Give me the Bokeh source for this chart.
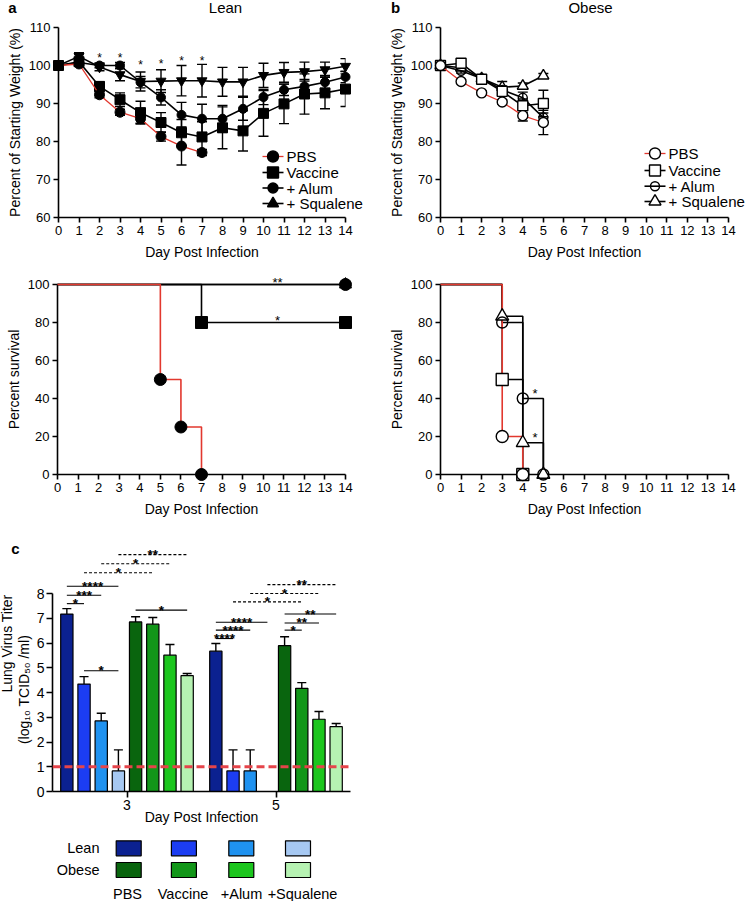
import math
from bokeh.plotting import figure
from bokeh.layouts import column, row
from bokeh.models import (Range1d, FixedTicker, Whisker, TeeHead, Span, ColumnDataSource)
from bokeh.core.properties import value
from bokeh.embed import file_html
from bokeh.resources import INLINE

FONT = "Liberation Sans"
RED = "#e2382e"
nan = float("nan")

# ---------------- body weight (% of starting weight), mean and SEM
days = list(range(15))
group_names = ["PBS", "Vaccine", "+ Alum", "+ Squalene"]

lean_pbs_days = [0, 1, 2, 3, 4, 5, 6, 7]
lean_pbs = [100, 100.4, 92.3, 87.7, 86.0, 81.3, 78.8, 77.1]
lean_pbs_sem = [0, 0.5, 0.8, 0.8, 1.2, 1.2, 5.0, 0.8]
lean_vac = [100, 101.0, 94.5, 91.0, 87.6, 85.0, 82.3, 81.2, 83.6, 82.8, 87.4, 89.9, 92.5, 92.8, 93.8]
lean_vac_sem = [0, 0.8, 1.2, 1.8, 3.0, 2.6, 3.5, 4.0, 5.5, 5.3, 6.0, 5.2, 5.3, 4.2, 4.6]
lean_alum = [100, 100.8, 100.0, 100.0, 95.6, 91.6, 87.0, 86.0, 86.0, 88.6, 91.7, 93.6, 94.5, 95.6, 97.0]
lean_alum_sem = [0, 0.8, 0.6, 0.8, 1.5, 2.0, 3.3, 3.8, 3.5, 3.0, 2.0, 1.5, 1.8, 1.8, 1.5]
lean_squa = [100, 102.4, 99.6, 97.6, 95.8, 95.9, 96.0, 96.0, 95.7, 95.7, 97.4, 98.2, 98.4, 98.9, 99.8]
lean_squa_sem = [0, 1.0, 1.0, 1.6, 2.5, 3.0, 4.0, 4.3, 3.8, 3.8, 3.2, 2.6, 2.5, 2.0, 2.0]

obese_days = [0, 1, 2, 3, 4, 5]
obese_pbs = [100, 95.8, 92.8, 90.4, 86.8, 85.0]
obese_pbs_sem = [0, 0.5, 0.5, 0.6, 1.4, 3.2]
obese_vac = [100, 100.6, 96.4, 93.2, 89.4, 90.0]
obese_vac_sem = [0, 0.5, 0.6, 1.0, 1.8, 3.5]
obese_alum = [100, 98.6, 96.6, 93.6, 91.5, 86.3]
obese_alum_sem = [0, 0.6, 0.5, 1.0, 1.5, 1.2]
obese_squa = [100, 99.4, 96.6, 94.3, 94.6, 97.3]
obese_squa_sem = [0, 0.5, 0.6, 1.5, 0.8, 0.6]

weight_star_days = [2, 3, 4, 5, 6, 7]
weight_star_level = [102.8, 102.8, 100.9, 101.1, 102.0, 102.0]

# ---------------- survival (%)
lean_surv_pbs_days = [0, 5, 6, 7]
lean_surv_pbs = [100, 50, 25, 0]
lean_surv_vac_days = [0, 7, 14]
lean_surv_vac = [100, 80, 80]
lean_surv_alum_days = [0, 14]
lean_surv_alum = [100, 100]
lean_surv_squa_days = [0, 14]
lean_surv_squa = [100, 100]
lean_surv_star_days = [10.7, 10.7]
lean_surv_star_level = [102.5, 82.5]
lean_surv_star_text = ["**", "*"]

obese_surv_pbs_days = [0, 3, 4]
obese_surv_pbs = [100, 20, 0]
obese_surv_vac_days = [0, 3, 4]
obese_surv_vac = [100, 50, 0]
obese_surv_alum_days = [0, 3, 4, 5]
obese_surv_alum = [100, 80, 40, 0]
obese_surv_squa_days = [0, 3, 4, 5]
obese_surv_squa = [100, 83.3, 16.7, 0]
obese_surv_star_days = [4.6, 4.6]
obese_surv_star_level = [44, 21]
obese_surv_star_text = ["*", "*"]

# ---------------- lung virus titers (log10 TCID50/ml)
titer_days = [3, 5]
titer_groups = ["PBS", "Vaccine", "+Alum", "+Squalene"]
cohorts = ["Lean", "Obese"]
lean_titer_d3 = [7.17, 4.34, 2.85, 0.83]
lean_titer_d3_sem = [0.22, 0.30, 0.31, 0.85]
obese_titer_d3 = [6.85, 6.76, 5.51, 4.68]
obese_titer_d3_sem = [0.21, 0.27, 0.43, 0.09]
lean_titer_d5 = [5.67, 0.83, 0.83, nan]
lean_titer_d5_sem = [0.31, 0.85, 0.85, nan]
obese_titer_d5 = [5.89, 4.17, 2.92, 2.62]
obese_titer_d5_sem = [0.36, 0.23, 0.31, 0.13]
detection_limit = 1.0
lean_colors = ["#0b2190", "#1c3df2", "#1f92f0", "#a6c8f2"]
obese_colors = ["#09650e", "#129619", "#1cc61e", "#b6f2b2"]

# significance brackets: day index, first bar, last bar (0-3 lean, 4-7 obese), height, label, dashed
bracket_day = [0, 0, 0, 0, 0, 0, 0, 0, 1, 1, 1, 1, 1, 1, 1, 1, 1]
bracket_from = [0, 0, 0, 1, 2, 3, 4, 1, 0, 0, 0, 4, 4, 4, 1, 2, 3]
bracket_to = [1, 2, 3, 5, 6, 7, 7, 3, 1, 2, 3, 5, 6, 7, 5, 6, 7]
bracket_level = [7.59, 7.93, 8.29, 8.84, 9.20, 9.57, 7.33, 4.88,
                 6.18, 6.52, 6.84, 6.52, 6.81, 7.17, 7.66, 8.00, 8.36]
bracket_stars = ["*", "***", "****", "*", "*", "**", "*", "*",
                 "****", "****", "****", "*", "**", "**", "*", "*", "**"]
bracket_dashed = [False, False, False, True, True, True, False, False,
                  False, False, False, False, False, False, True, True, True]


def base_fig(fw, fh, left, right, top, bottom, xr, yr):
    p = figure(frame_width=fw, frame_height=fh, x_range=xr, y_range=yr,
               output_backend="svg", toolbar_location=None,
               min_border_left=left, min_border_right=right,
               min_border_top=top, min_border_bottom=bottom)
    p.grid.visible = False
    p.outline_line_color = None
    p.background_fill_color = "white"
    p.border_fill_color = "white"
    return p


def style_axes(p, tick_size="13px", label_size="14px", tick_out=5,
               x_label_standoff=6, y_label_standoff=3, label_gap=3):
    for ax in list(p.xaxis) + list(p.yaxis):
        ax.axis_line_color = "black"
        ax.axis_line_width = 1.6
        ax.major_tick_line_color = "black"
        ax.major_tick_line_width = 1.6
        ax.major_tick_out = tick_out
        ax.major_tick_in = 0
        ax.minor_tick_line_color = None
        ax.major_label_text_font = FONT
        ax.major_label_text_font_size = tick_size
        ax.major_label_text_color = "black"
        ax.major_label_standoff = label_gap
        ax.axis_label_text_font = FONT
        ax.axis_label_text_font_size = label_size
        ax.axis_label_text_font_style = "normal"
        ax.axis_label_text_color = "black"
    for ax in p.xaxis:
        ax.axis_label_standoff = x_label_standoff
    for ax in p.yaxis:
        ax.axis_label_standoff = y_label_standoff


def add_text(p, xs, ys, texts, size, bold=False, align="center", x_offset=0, y_offset=0, angle=0):
    p.text(x=xs, y=ys, text=texts, text_font=value(FONT), text_font_size=size,
           text_font_style="bold" if bold else "normal", text_align=align,
           text_baseline="middle", x_offset=x_offset, y_offset=y_offset, angle=angle,
           text_color="black", level="overlay")


def add_errorbars(p, xs, ys, sems, cap=10):
    keep = [i for i in range(len(xs)) if sems[i] and sems[i] > 0]
    src = ColumnDataSource(dict(x=[xs[i] for i in keep],
                                lo=[ys[i] - sems[i] for i in keep],
                                hi=[ys[i] + sems[i] for i in keep]))
    w = Whisker(source=src, base="x", lower="lo", upper="hi",
                line_color="black", line_width=1.4, level="annotation",
                upper_head=TeeHead(size=cap, line_color="black", line_width=1.4),
                lower_head=TeeHead(size=cap, line_color="black", line_width=1.4))
    p.add_layout(w)


def manual_legend(p, fw, fh, xr, yr, rows_px, specs):
    """Legend drawn at pixel offsets from the frame's top-left corner."""
    def X(px):
        return xr[0] + px * (xr[1] - xr[0]) / fw

    def Y(py):
        return yr[1] - py * (yr[1] - yr[0]) / fh

    for (label, marker, size, lc, fc, lw), py in zip(specs, rows_px):
        p.line([X(204), X(225)], [Y(py), Y(py)], line_color=lc, line_width=lw, level="overlay")
        p.scatter([X(214.5)], [Y(py)], marker=marker, size=size, fill_color=fc,
                  line_color="black", line_width=1.4, level="overlay")
        add_text(p, [X(228)], [Y(py)], [label], "15px", align="left")


# ================= panel a (lean weight)
pa = base_fig(287, 190, 58, 30, 27, 57, Range1d(0, 14), Range1d(60, 110))
pa.xaxis.ticker = FixedTicker(ticks=days)
pa.yaxis.ticker = FixedTicker(ticks=[60, 70, 80, 90, 100, 110])
pa.xaxis.axis_label = "Day Post Infection"
pa.yaxis.axis_label = "Percent of Starting Weight (%)"
style_axes(pa)

lean_series = [
    (lean_pbs_days, lean_pbs, lean_pbs_sem, "circle", 10, RED),
    (days, lean_vac, lean_vac_sem, "square", 10, "black"),
    (days, lean_alum, lean_alum_sem, "circle", 9, "black"),
    (days, lean_squa, lean_squa_sem, "inverted_triangle", 10, "black"),
]
for xs, ys, sems, *_ in lean_series:
    add_errorbars(pa, xs, ys, sems)
for idx in [3, 2, 1, 0]:
    xs, ys, sems, marker, size, lc = lean_series[idx]
    pa.line(xs, ys, line_color=lc, line_width=1.6 if lc == "black" else 1.3, level="overlay")
    pa.scatter(xs, ys, marker=marker, size=size, fill_color="black",
               line_color="black", line_width=1, level="overlay")
manual_legend(pa, 287, 190, (0, 14), (60, 110), [129, 145, 160.5, 176], [
    ("PBS", "circle", 11, RED, "black", 1.3),
    ("Vaccine", "square", 11, "black", "black", 1.6),
    ("+ Alum", "circle", 10, "black", "black", 1.6),
    ("+ Squalene", "triangle", 11, "black", "black", 1.6),
])
add_text(pa, weight_star_days, weight_star_level, ["*"] * len(weight_star_days), "12px", y_offset=3)
add_text(pa, [0], [110], ["a"], "15px", bold=True, x_offset=-46, y_offset=-20)
add_text(pa, [0], [110], ["Lean"], "15px", x_offset=167, y_offset=-20)

# ================= panel b (obese weight)
pb = base_fig(288, 190, 65, 22, 27, 57, Range1d(0, 14), Range1d(60, 110))
pb.xaxis.ticker = FixedTicker(ticks=days)
pb.yaxis.ticker = FixedTicker(ticks=[60, 70, 80, 90, 100, 110])
pb.xaxis.axis_label = "Day Post Infection"
pb.yaxis.axis_label = "Percent of Starting Weight (%)"
style_axes(pb)

obese_series = [
    (obese_pbs, obese_pbs_sem, "circle", 10, RED, "white"),
    (obese_vac, obese_vac_sem, "square", 10, "black", "white"),
    (obese_alum, obese_alum_sem, "circle", 9, "black", None),
    (obese_squa, obese_squa_sem, "triangle", 11, "black", "white"),
]
for ys, sems, *_ in obese_series:
    add_errorbars(pb, obese_days, ys, sems)
for idx in [3, 2, 1, 0]:
    ys, sems, marker, size, lc, fc = obese_series[idx]
    pb.line(obese_days, ys, line_color=lc, line_width=1.6 if lc == "black" else 1.3, level="overlay")
    pb.scatter(obese_days, ys, marker=marker, size=size, fill_color=fc,
               line_color="black", line_width=1.4, level="overlay")
manual_legend(pb, 288, 190, (0, 14), (60, 110), [126, 143, 158.7, 174], [
    ("PBS", "circle", 11, RED, "white", 1.3),
    ("Vaccine", "square", 11, "black", "white", 1.6),
    ("+ Alum", "circle", 9, "black", None, 1.6),
    ("+ Squalene", "triangle", 12, "black", "white", 1.6),
])
add_text(pb, [0], [110], ["b"], "15px", bold=True, x_offset=-45, y_offset=-20)
add_text(pb, [0], [110], ["Obese"], "15px", x_offset=150, y_offset=-20)


# ================= survival panels
def survival_fig(left, right, top, bottom):
    p = base_fig(288, 190, left, right, top, bottom, Range1d(0, 14), Range1d(0, 100))
    p.xaxis.ticker = FixedTicker(ticks=days)
    p.yaxis.ticker = FixedTicker(ticks=[0, 20, 40, 60, 80, 100])
    p.xaxis.axis_label = "Day Post Infection"
    p.yaxis.axis_label = "Percent survival"
    style_axes(p)
    return p


psa = survival_fig(57, 30, 9, 63)
lean_surv = [
    (lean_surv_squa_days, lean_surv_squa, "triangle", "black"),
    (lean_surv_alum_days, lean_surv_alum, "circle", "black"),
    (lean_surv_vac_days, lean_surv_vac, "square", "black"),
    (lean_surv_pbs_days, lean_surv_pbs, "circle", RED),
]
for xs, ys, marker, lc in lean_surv:
    psa.step(xs, ys, mode="after", line_color=lc, line_width=1.6, level="overlay")
for xs, ys, marker, lc in lean_surv:
    psa.scatter(xs[1:], ys[1:], marker=marker, size=12, fill_color="black",
                line_color="black", level="overlay")
add_text(psa, lean_surv_star_days, lean_surv_star_level, lean_surv_star_text, "13px", y_offset=3)

psb = survival_fig(65, 22, 10, 61)
obese_surv = [
    (obese_surv_squa_days, obese_surv_squa, "triangle", "black", "white", 13),
    (obese_surv_alum_days, obese_surv_alum, "circle", "black", None, 11),
    (obese_surv_vac_days, obese_surv_vac, "square", "black", "white", 12),
    (obese_surv_pbs_days, obese_surv_pbs, "circle", RED, "white", 12),
]
for xs, ys, marker, lc, fc, sz in obese_surv:
    psb.step(xs, ys, mode="after", line_color=lc, line_width=1.6, level="overlay")
for xs, ys, marker, lc, fc, sz in obese_surv:
    psb.scatter(xs[1:], ys[1:], marker=marker, size=sz, fill_color=fc,
                line_color="black", line_width=1.4, level="overlay")
add_text(psb, obese_surv_star_days, obese_surv_star_level, obese_surv_star_text, "13px", y_offset=3)

# ================= panel c (titers) with its colour key underneath
SLOT = 0.2307
BAR_W = 0.165
C_FW, C_FH = 298, 198
C_X, C_Y = (2, 6), (0, 8)


def bar_x(d, i):
    return titer_days[d] + (i - 3.5) * SLOT


def c_px(dx, dy):
    """pixel offset right of / below the frame's bottom-left corner -> data coords"""
    return (C_X[0] + dx * (C_X[1] - C_X[0]) / C_FW, C_Y[0] - dy * (C_Y[1] - C_Y[0]) / C_FH)


pc = base_fig(C_FW, C_FH, 52, 20, 57, 111, Range1d(*C_X), Range1d(*C_Y))
pc.xaxis.ticker = FixedTicker(ticks=titer_days)
pc.yaxis.ticker = FixedTicker(ticks=list(range(9)))
pc.xaxis.axis_label = "Day Post Infection"
style_axes(pc, tick_size="14px", label_size="14px", tick_out=6,
           x_label_standoff=-4, label_gap=2)
# two-line y-axis title, drawn as rotated text beside the axis
add_text(pc, [2], [4], ["Lung Virus Titer"], "14px", x_offset=-46, y_offset=-49, angle=math.pi / 2)
add_text(pc, [2], [4], ["(log\u2081\u2080 TCID\u2085\u2080 /ml)"], "14px", x_offset=-29, y_offset=-3,
         angle=math.pi / 2)

titer_vals = [lean_titer_d3 + obese_titer_d3, lean_titer_d5 + obese_titer_d5]
titer_sems = [lean_titer_d3_sem + obese_titer_d3_sem, lean_titer_d5_sem + obese_titer_d5_sem]
bar_colors = lean_colors + obese_colors
bx, btop, bcol, wlo, whi = [], [], [], [], []
for d in range(2):
    for i in range(8):
        v = titer_vals[d][i]
        if math.isnan(v):
            continue
        bx.append(bar_x(d, i))
        btop.append(v)
        bcol.append(bar_colors[i])
        wlo.append(v)
        whi.append(v + titer_sems[d][i])
pc.vbar(x=bx, top=btop, bottom=0, width=BAR_W, fill_color=bcol,
        line_color="black", line_width=1.2)
pc.add_layout(Whisker(source=ColumnDataSource(dict(x=bx, lo=wlo, hi=whi)),
                      base="x", lower="lo", upper="hi", line_color="black",
                      line_width=1.4, level="annotation", lower_head=None,
                      upper_head=TeeHead(size=9, line_color="black", line_width=1.4)))
pc.add_layout(Span(location=detection_limit, dimension="width", line_color="#e5444a",
                   line_width=3, line_dash="8 4", level="overlay"))

for dashed in [False, True]:
    sel = [k for k in range(len(bracket_day)) if bracket_dashed[k] == dashed]
    pc.segment(x0=[bar_x(bracket_day[k], bracket_from[k]) for k in sel],
               y0=[bracket_level[k] for k in sel],
               x1=[bar_x(bracket_day[k], bracket_to[k]) for k in sel],
               y1=[bracket_level[k] for k in sel],
               line_color="black", line_width=1.1,
               line_dash="3 2" if dashed else "solid", level="overlay")
add_text(pc,
         [(bar_x(bracket_day[k], bracket_from[k]) + bar_x(bracket_day[k], bracket_to[k])) / 2
          for k in range(len(bracket_day))],
         bracket_level, bracket_stars, "13.5px", bold=True, y_offset=0)
add_text(pc, [2], [8], ["c"], "15px", bold=True, x_offset=-37, y_offset=-45)

# colour key (pixel layout below the axis title)
key_box_px = [76.2, 131.4, 188.8, 245.5]
key_label_px = [75, 130.5, 189, 250]
key_row_px = [56.8, 78.5]
key_name_px = 102.7
kx, ky, kc = [], [], []
for r, colors in enumerate([lean_colors, obese_colors]):
    for j in range(4):
        x, y = c_px(key_box_px[j], key_row_px[r])
        kx.append(x)
        ky.append(y)
        kc.append(colors[j])
pc.rect(x=kx, y=ky, width=25, height=15, width_units="screen", height_units="screen",
        fill_color=kc, line_color="black", line_width=1.2, level="overlay")
for r, name in enumerate(cohorts):
    x, y = c_px(47, key_row_px[r])
    add_text(pc, [x], [y], [name], "14.5px", align="right")
for j, name in enumerate(titer_groups):
    x, y = c_px(key_label_px[j], key_name_px)
    add_text(pc, [x], [y], [name], "14.5px")

layout = column(row(pa, pb), row(psa, psb), pc)
open("out.html", "w").write(file_html(layout, INLINE))
